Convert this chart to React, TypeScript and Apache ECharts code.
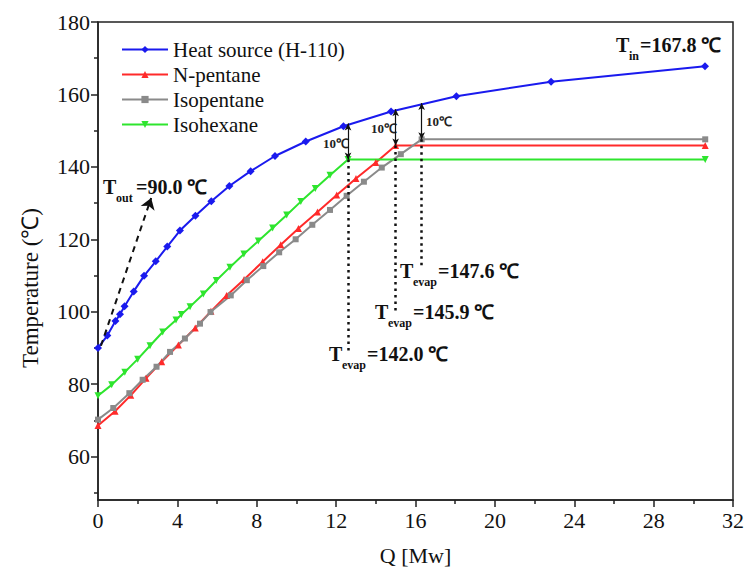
import React, { useEffect, useRef } from "react";
import * as echarts from "echarts";

// Heat source (H-110)
const heatQ = [0, 0.47, 0.88, 1.11, 1.34, 1.8, 2.32, 2.91, 3.49, 4.13, 4.91, 5.71, 6.62, 7.69, 8.92, 10.47, 12.37, 14.77, 18.06, 22.83, 30.59];
const heatT = [90.0, 93.4, 97.4, 99.3, 101.5, 105.6, 109.9, 113.9, 118.0, 122.4, 126.5, 130.5, 134.7, 138.8, 143.0, 147.0, 151.2, 155.3, 159.5, 163.5, 167.8];
// N-pentane
const npQ = [0, 0.86, 1.65, 2.42, 3.21, 4.05, 4.9, 5.69, 6.48, 7.36, 8.3, 9.21, 10.1, 11.06, 12.03, 13.0, 14.0, 15.0, 30.6];
const npT = [68.6, 72.5, 76.9, 81.6, 86.2, 90.8, 95.5, 100.1, 104.5, 108.9, 113.8, 118.5, 123.0, 127.5, 132.2, 136.8, 141.2, 145.9, 145.9];
// Isopentane
const ipQ = [0, 0.77, 1.58, 2.25, 2.95, 3.63, 4.38, 5.14, 5.67, 6.69, 7.5, 8.33, 9.13, 9.96, 10.8, 11.69, 12.53, 13.4, 14.3, 15.26, 16.31, 30.6];
const ipT = [70.2, 73.4, 77.5, 81.2, 84.8, 88.9, 92.6, 96.7, 99.9, 104.5, 108.7, 112.6, 116.4, 120.0, 124.0, 128.1, 132.0, 135.9, 139.8, 143.5, 147.6, 147.6];
// Isohexane
const ihQ = [0, 0.69, 1.35, 2.0, 2.62, 3.26, 3.93, 4.2, 4.64, 5.31, 5.96, 6.65, 7.35, 8.08, 8.8, 9.51, 10.22, 10.95, 11.69, 12.6, 30.6];
const ihT = [76.8, 79.8, 83.3, 86.9, 90.6, 94.4, 97.7, 99.2, 101.4, 104.9, 108.6, 112.3, 115.9, 119.5, 123.1, 126.7, 130.4, 134.0, 137.7, 142.0, 142.0];

// Pinch annotations
const pinchQ = [12.6, 15.0, 16.31];
const evapT = [142.0, 145.9, 147.6];
const pinchDT = 10;
const dottedBottom = [88.5, 100.0, 112.0];
const toutArrow = [[0.15, 90.6], [2.68, 131.4]];

const yMajor = [60, 80, 100, 120, 140, 160, 180];
const yMinor = [50, 70, 90, 110, 130, 150, 170];

const FONT = "Liberation Serif";

const zip = (a: number[], b: number[]) => a.map((v, i) => [v, b[i]]);

function subLabel(x: number, y: number, main: string, sub: string, rest: string, subDx: number, restDx: number) {
  return {
    type: "group",
    x,
    y,
    children: [
      { type: "text", x: 0, y: 0, style: { text: main, fontFamily: FONT, fontWeight: "bold", fontSize: 20, fill: "#111", verticalAlign: "middle" } },
      { type: "text", x: subDx, y: 11, style: { text: sub, fontFamily: FONT, fontWeight: "bold", fontSize: 12, fill: "#111", verticalAlign: "middle" } },
      { type: "text", x: restDx, y: 0, style: { text: rest, fontFamily: FONT, fontWeight: "bold", fontSize: 20, fill: "#111", verticalAlign: "middle" } },
    ],
  };
}

export default function App() {
  const ref = useRef<HTMLDivElement>(null);
  useEffect(() => {
    document.body.style.margin = "0";
    const chart = echarts.init(ref.current!, null, { renderer: "svg" });
    const lineMk = (name: string, data: number[][], color: string, symbol: string, size: number, rotate = 0) => ({
      name,
      type: "line",
      data,
      symbol,
      symbolSize: size,
      symbolRotate: rotate,
      lineStyle: { color, width: 2 },
      itemStyle: { color },
      z: 3,
    });
    const tickStyle = { color: "#222", width: 1.5 };
    chart.setOption({
      animation: false,
      backgroundColor: "#fff",
      textStyle: { fontFamily: FONT },
      grid: { left: 98, right: 15, top: 22, bottom: 71, show: true, borderColor: "#222", borderWidth: 1.5, backgroundColor: "transparent" },
      legend: {
        data: ["Heat source (H-110)", "N-pentane", "Isopentane", "Isohexane"],
        orient: "vertical",
        left: 116,
        top: 34,
        itemWidth: 46,
        itemHeight: 9,
        itemGap: 4,
        textStyle: { fontFamily: FONT, fontSize: 21, color: "#111" },
      },
      xAxis: {
        type: "value",
        min: 0,
        max: 32,
        interval: 4,
        name: "Q [Mw]",
        nameLocation: "middle",
        nameGap: 44,
        nameTextStyle: { fontFamily: FONT, fontSize: 22, color: "#111" },
        axisLine: { lineStyle: tickStyle },
        axisTick: { length: 7, lineStyle: tickStyle },
        minorTick: { show: true, splitNumber: 2, length: 4, lineStyle: tickStyle },
        axisLabel: { fontFamily: FONT, fontSize: 22, color: "#111", margin: 9 },
        splitLine: { show: false },
      },
      yAxis: [
        {
          type: "value",
          min: 48,
          max: 180,
          axisLine: { show: true, lineStyle: tickStyle },
          axisTick: { show: true, length: 7, customValues: yMajor, lineStyle: tickStyle },
          axisLabel: { fontFamily: FONT, fontSize: 22, color: "#111", margin: 8, customValues: yMajor },
          splitLine: { show: false },
        },
        {
          type: "value",
          min: 48,
          max: 180,
          position: "left",
          axisLine: { show: false },
          axisTick: { show: true, length: 4, customValues: yMinor, lineStyle: tickStyle },
          axisLabel: { show: false, customValues: yMinor },
          splitLine: { show: false },
        },
      ],
      series: [
        lineMk("Heat source (H-110)", zip(heatQ, heatT), "#1a1aee", "diamond", 8),
        lineMk("N-pentane", zip(npQ, npT), "#ff2a2a", "triangle", 7),
        lineMk("Isopentane", zip(ipQ, ipT), "#8a8a8a", "rect", 6),
        lineMk("Isohexane", zip(ihQ, ihT), "#2ee52e", "triangle", 7, 180),
        {
          name: "dotted",
          type: "line",
          data: [],
          markLine: {
            silent: true,
            symbol: "none",
            label: { show: false },
            lineStyle: { color: "#111", width: 2.5, type: [2.5, 4] },
            data: pinchQ.map((q, i) => [{ coord: [q, evapT[i]] }, { coord: [q, dottedBottom[i]] }]),
          },
        },
        {
          name: "dt",
          type: "line",
          data: [],
          markLine: {
            silent: true,
            symbol: ["arrow", "arrow"],
            symbolSize: [5, 7],
            label: { show: false },
            lineStyle: { color: "#111", width: 1.2, type: "solid" },
            data: pinchQ.map((q, i) => [{ coord: [q, evapT[i] + pinchDT] }, { coord: [q, evapT[i]] }]),
          },
        },
        {
          name: "tout",
          type: "line",
          data: [],
          markLine: {
            silent: true,
            symbol: ["none", "arrow"],
            symbolSize: 11,
            label: { show: false },
            lineStyle: { color: "#111", width: 2, type: [6, 5] },
            data: [[{ coord: toutArrow[0] }, { coord: toutArrow[1] }]],
          },
        },
      ],
      graphic: [
        {
          type: "text",
          x: 30,
          y: 288,
          rotation: Math.PI / 2,
          style: { text: "Temperature (℃)", fontFamily: FONT, fontSize: 23, fill: "#111", align: "center", verticalAlign: "middle" },
        },
        subLabel(616, 45, "T", "in", "=167.8 ℃", 13, 24),
        subLabel(103, 187, "T", "out", "=90.0 ℃", 13, 33),
        subLabel(400, 271, "T", "evap", "=147.6 ℃", 13, 38),
        subLabel(375, 312, "T", "evap", "=145.9 ℃", 13, 38),
        subLabel(329, 354, "T", "evap", "=142.0 ℃", 13, 38),
        { type: "text", x: 323, y: 143, style: { text: "10℃", fontFamily: FONT, fontWeight: "bold", fontSize: 13, fill: "#222", verticalAlign: "middle" } },
        { type: "text", x: 371, y: 128, style: { text: "10℃", fontFamily: FONT, fontWeight: "bold", fontSize: 13, fill: "#222", verticalAlign: "middle" } },
        { type: "text", x: 426, y: 121, style: { text: "10℃", fontFamily: FONT, fontWeight: "bold", fontSize: 13, fill: "#222", verticalAlign: "middle" } },
      ],
    });
    return () => chart.dispose();
  }, []);
  return <div ref={ref} style={{ width: 748, height: 571 }} />;
}
